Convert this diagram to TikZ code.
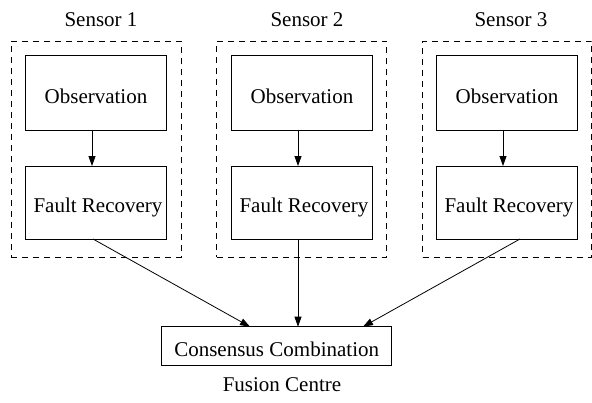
\documentclass[tikz,border=0pt]{standalone}
\usepackage{fontspec}
\setmainfont{Liberation Serif}
\usetikzlibrary{arrows.meta}
\begin{document}
\begin{tikzpicture}[x=1pt,y=-1pt,
  every node/.style={inner sep=0pt,outer sep=0pt,font=\fontsize{21}{25}\selectfont},
  group/.style={draw,dashed,dash pattern=on 6pt off 5pt,line width=0.8pt,minimum width=170pt,minimum height=216pt},
  block/.style={draw,line width=0.9pt,minimum width=140.5pt},
  link/.style={line width=0.8pt,-{Triangle[length=10pt,width=7pt]}}]
\useasboundingbox (0,0) rectangle (592,402);

% sensor groups
\node[group] (g1) at (96,149) {};
\node[group] (g2) at (301.7,149) {};
\node[group,minimum width=169pt] (g3) at (507,149) {};

\node (l1) at (101,20) {Sensor 1};
\node (l2) at (307,20) {Sensor 2};
\node (l3) at (511,20) {Sensor 3};

% observation and fault recovery stages
\foreach \i/\x in {1/96,2/302,3/507}{
  \node[block,minimum height=75pt] (o\i) at (\x,92.5) {};
  \node at (\x,96) {Observation};
  \node[block,minimum height=73pt] (f\i) at (\x,202.5) {};
  \node at (\x+2,207) {Fault Recovery};
  \draw[link] ([xshift=-4pt]o\i.south) -- ([xshift=-4pt]f\i.north);
}

% fusion centre
\node[block,minimum width=230pt,minimum height=38.3pt] (cc) at (276.7,345.8) {};
\node at (276.7,349) {Consensus Combination};
\node (fc) at (282,385) {Fusion Centre};

\coordinate (t1) at (250,326.7);
\coordinate (t2) at (298,326.7);
\coordinate (t3) at (363,326.7);
\draw[link] ([xshift=-3pt]f1.south) -- (t1);
\draw[link] ([xshift=-4pt]f2.south) -- (t2);
\draw[link] ([xshift=13pt]f3.south) -- (t3);
\end{tikzpicture}
\end{document}
